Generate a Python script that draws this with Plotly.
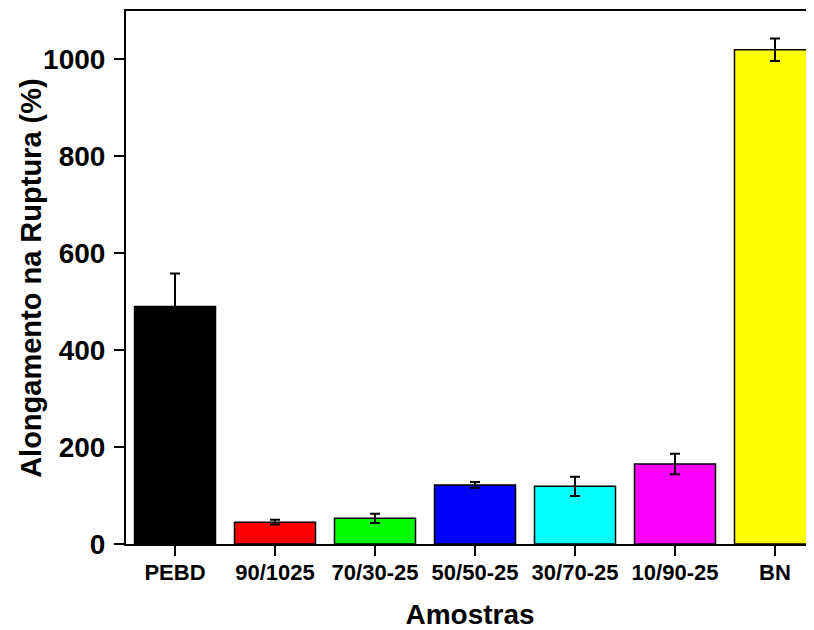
import plotly.graph_objects as go

categories = ["PEBD", "90/1025", "70/30-25", "50/50-25", "30/70-25", "10/90-25", "BN"]
values = [490, 45, 53, 122, 119, 165, 1020]
errors = [68, 5, 9.5, 6, 20, 21, 23]
colors = ["#000000", "#FF0000", "#00FF00", "#0000FF", "#00FFFF", "#FF00FF", "#FFFF00"]
y_ticks = [0, 200, 400, 600, 800, 1000]
x_title = "Amostras"
y_title = "Alongamento na Ruptura (%)"

FONT = "Liberation Sans, Arial, sans-serif"

fig = go.Figure(
    go.Bar(
        x=list(range(len(categories))),
        y=values,
        width=0.81,
        marker=dict(color=colors, line=dict(color="#000000", width=1.5)),
        error_y=dict(type="data", array=errors, visible=True,
                     color="#000000", thickness=2, width=5),
    )
)

fig.update_layout(
    width=806, height=622,
    margin=dict(l=118, r=0, t=3, b=86, autoexpand=False),
    plot_bgcolor="white", paper_bgcolor="white",
    showlegend=False,
    font=dict(family=FONT, color="#000000"),
)

fig.update_xaxes(
    automargin=False,
    range=[-0.49, 6.39],
    tickmode="array", tickvals=list(range(len(categories))), ticktext=categories,
    tickfont=dict(size=22, family=FONT, weight="bold"),
    ticks="outside", ticklen=10, tickwidth=2, tickcolor="#000000",
    ticklabelstandoff=-2,
    showline=True, linewidth=2, linecolor="#000000", mirror=True,
    showgrid=False, zeroline=False,
    title=dict(text=x_title, font=dict(size=28, family=FONT, weight="bold"), standoff=27),
)

fig.update_yaxes(
    automargin=False,
    range=[0, 1100],
    tickmode="array", tickvals=y_ticks,
    tickfont=dict(size=28, family=FONT, weight="bold"),
    ticks="outside", ticklen=10, tickwidth=2, tickcolor="#000000",
    ticklabelstandoff=3,
    showline=True, linewidth=2, linecolor="#000000",
    showgrid=False, zeroline=False,
)

fig.add_annotation(
    text=y_title, textangle=-90,
    xref="paper", yref="paper", x=-0.139, y=0.5,
    xanchor="center", yanchor="middle", showarrow=False,
    font=dict(size=29, family=FONT, weight="bold", color="#000000"),
)

fig.write_html("out.html")
